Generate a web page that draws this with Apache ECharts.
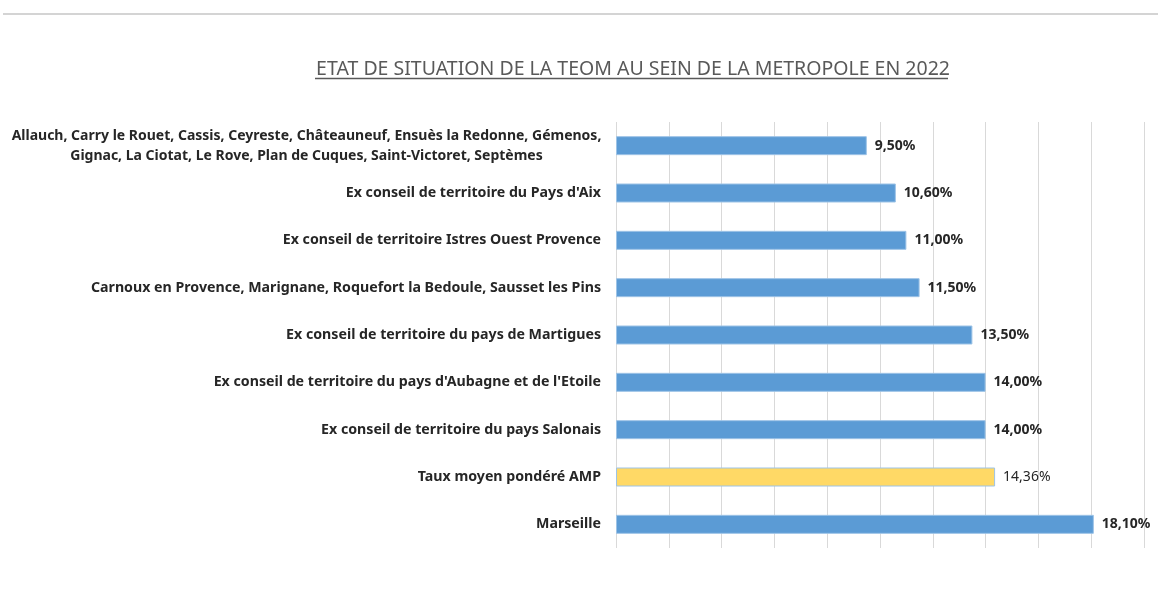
<!DOCTYPE html>
<html><head><meta charset="utf-8">
<script src="https://cdn.jsdelivr.net/npm/echarts@6/dist/echarts.min.js"></script>
<style>html,body{margin:0;padding:0;background:#fff}#c{width:1158px;height:609px}</style>
</head><body><div id="c"></div>
<script>
const categories = [
  "Allauch, Carry le Rouet, Cassis, Ceyreste, Châteauneuf, Ensuès la Redonne, Gémenos,\nGignac, La Ciotat, Le Rove, Plan de Cuques, Saint-Victoret, Septèmes",
  "Ex conseil de territoire du Pays d'Aix",
  "Ex conseil de territoire Istres Ouest Provence",
  "Carnoux en Provence, Marignane, Roquefort la Bedoule, Sausset les Pins",
  "Ex conseil de territoire du pays de Martigues",
  "Ex conseil de territoire du pays d'Aubagne et de l'Etoile",
  "Ex conseil de territoire du pays Salonais",
  "Taux moyen pondéré AMP",
  "Marseille"
];
const values = [9.5, 10.6, 11.0, 11.5, 13.5, 14.0, 14.0, 14.36, 18.1];
const highlightIndex = 7;
const FONT = "'Noto Sans', sans-serif";

const chart = echarts.init(document.getElementById('c'), null, {renderer: 'canvas'});
const yData = categories.map((c, i) => {
  if (i === 0) {
    return {value: c, textStyle: {align: 'center', padding: [0, 589, 0, 0], lineHeight: 20, fontSize: 14}};
  }
  return c;
});
chart.setOption({
  animation: false,
  backgroundColor: '#ffffff',
  title: {
    text: 'ETAT DE SITUATION DE LA TEOM AU SEIN DE LA METROPOLE EN 2022',
    left: 628, top: 54, textAlign: 'center',
    textStyle: {fontFamily: FONT, fontSize: 19.5, fontWeight: 'normal', color: '#595959'}
  },
  graphic: [
    {type: 'line', shape: {x1: 3, y1: 14, x2: 1158, y2: 14}, style: {stroke: '#d4d4d4', lineWidth: 2}},
    {type: 'line', shape: {x1: 315, y1: 78.5, x2: 948, y2: 78.5}, style: {stroke: '#595959', lineWidth: 1.4}}
  ],
  grid: {left: 616, right: 14, top: 122, bottom: 61, containLabel: false, outerBoundsMode: 'none'},
  xAxis: {
    type: 'value', min: 0, max: 20, interval: 2,
    axisLabel: {show: false}, axisLine: {show: false}, axisTick: {show: false},
    splitLine: {show: true, lineStyle: {color: '#d9d9d9', width: 1}}
  },
  yAxis: {
    type: 'category', inverse: true, data: yData,
    axisLine: {show: false}, axisTick: {show: false},
    axisLabel: {margin: 15, fontFamily: FONT, fontSize: 14.2, fontWeight: 'bold', color: '#262626', lineHeight: 20}
  },
  series: [{
    type: 'bar',
    data: values.map((v, i) => ({
      value: v,
      itemStyle: {color: i === highlightIndex ? '#FFD966' : '#5B9BD5'},
      label: i === highlightIndex ? {fontWeight: 'normal'} : {}
    })),
    barWidth: 19,
    itemStyle: {borderColor: '#9DC3E6', borderWidth: 1},
    label: {
      show: true, position: 'right', distance: 8,
      fontFamily: FONT, fontSize: 14, fontWeight: 'bold', color: '#262626',
      formatter: p => p.value.toFixed(2).replace('.', ',') + '%'
    }
  }]
});
</script></body></html>
